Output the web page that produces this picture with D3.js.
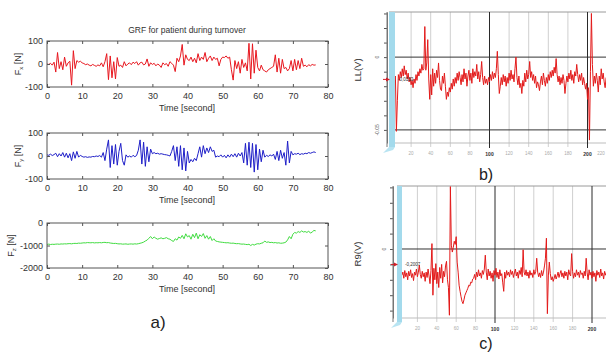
<!DOCTYPE html>
<html><head><meta charset="utf-8">
<script src="https://cdn.jsdelivr.net/npm/d3@7"></script>
<style>body{margin:0;background:#fff}svg{display:block}</style>
</head><body>
<svg id="chart" width="606" height="354"></svg>
<script>
// ---------- data ----------
const grfTitle = "GRF for patient during turnover";
const timeStep = 0.5; // seconds between samples
const timeTicks = [0, 10, 20, 30, 40, 50, 60, 70, 80];
const fxTicks = [-100, 0, 100];
const fyTicks = [-100, 0, 100];
const fzTicks = [-2000, -1000, 0];

const fx = [0,-2,3,-5,8,-35,50,-20,10,-25,30,-10,5,12,-92,58,-20,15,8,12,5,
 2,-3,0,-5,-8,-2,-6,-10,-4,-8,5,-12,10,45,-68,35,-60,10,-65,28,
 -10,-5,-15,10,-8,0,5,-3,8,2,10,-5,5,8,-4,0,22,-10,5,-2,
 3,-8,0,-5,-15,5,-3,2,-10,10,3,-5,-33,25,10,35,85,-5,40,20,
 15,30,10,25,5,45,15,30,20,50,10,25,35,15,30,20,25,-8,20,30,
 28,35,25,30,-25,-70,15,-20,10,-40,20,-15,5,-30,90,-65,88,-40,60,-15,
 -30,-5,-25,-30,-35,-25,-20,-15,-10,40,-35,25,-40,20,-20,-15,-30,-20,15,-30,
 20,-25,15,-20,25,-10,-5,-12,-3,-8,-2,-5,-4];

const fy = [5,3,8,2,6,12,-3,10,0,15,-5,12,-8,10,-20,18,-10,20,-5,3,-2,
 -5,-3,-6,-4,-5,-2,-3,0,-2,2,-5,15,-20,30,70,-50,45,-35,50,-40,
 20,55,-20,-40,5,-5,0,-5,3,-3,2,25,70,-35,60,-45,40,-25,30,10,
 15,10,12,8,10,8,6,5,3,0,20,45,-20,40,-45,45,-60,35,-65,20,
 -30,-15,-25,-10,-20,10,40,-5,45,10,35,15,40,20,25,-5,0,-3,5,-5,
 3,-8,5,-5,8,-3,10,-5,12,0,15,-30,55,-40,60,-50,55,-70,50,-60,
 30,-25,25,-5,3,-2,5,0,8,-15,20,-20,25,-10,15,-40,65,-30,20,5,
 10,8,12,6,10,8,12,10,15,12,15,18,15];

const fz = [-950,-940,-955,-945,-950,-940,-935,-945,-930,-935,-925,-930,-920,-915,-925,-910,-905,-910,-895,-900,-890,
 -880,-885,-870,-875,-880,-870,-885,-875,-880,-870,-880,-865,-860,-875,-870,-890,-900,-910,-905,-920,
 -930,-925,-940,-935,-930,-945,-935,-930,-940,-925,-935,-920,-900,-880,-850,-800,-760,-680,-600,-700,
 -620,-680,-720,-690,-660,-700,-680,-650,-700,-720,-780,-820,-700,-760,-620,-680,-550,-700,-480,-620,
 -560,-720,-500,-650,-450,-700,-520,-600,-470,-680,-560,-720,-600,-780,-700,-800,-820,-840,-850,-860,
 -870,-880,-875,-890,-900,-895,-910,-920,-915,-930,-940,-935,-950,-960,-945,-1000,-950,-980,-940,-920,
 -930,-900,-880,-800,-860,-840,-870,-860,-880,-870,-890,-880,-900,-895,-880,-850,-750,-600,-700,-500,
 -420,-450,-380,-420,-350,-400,-380,-420,-360,-450,-400,-330,-350];

// panel b: LL(V), one sample per unit starting at sample 3
const llStart = 3, llStep = 1;
const llValues = [
 -0.014,-0.013,-0.051,-0.030,-0.012,-0.016,-0.010,-0.014,-0.008,-0.013,
 -0.006,-0.012,-0.009,-0.015,-0.011,-0.017,-0.014,-0.019,-0.016,-0.021,
 -0.015,-0.018,-0.012,-0.016,-0.010,-0.013,-0.008,-0.011,-0.005,-0.009,
 -0.008,0.021,-0.009,-0.004,0.012,-0.015,-0.029,-0.012,-0.026,-0.008,
 -0.020,-0.011,-0.018,-0.009,-0.014,-0.004,-0.016,-0.022,-0.023,-0.013,
 -0.018,-0.011,-0.020,-0.029,-0.024,-0.027,-0.021,-0.024,-0.018,-0.022,
 -0.015,-0.020,-0.014,-0.018,-0.011,-0.016,-0.010,-0.014,-0.019,-0.012,
 -0.017,-0.008,-0.015,-0.011,-0.020,-0.013,-0.009,-0.016,-0.011,-0.018,
 -0.008,-0.014,-0.010,-0.013,-0.005,-0.015,-0.010,-0.017,-0.012,-0.003,
 -0.014,-0.019,-0.013,-0.018,-0.015,-0.019,-0.014,-0.017,-0.012,-0.016,
 -0.010,-0.015,-0.011,-0.014,-0.008,0.004,-0.012,-0.025,-0.020,-0.014,
 -0.019,-0.012,-0.017,-0.013,-0.020,-0.014,-0.018,-0.011,-0.016,-0.009,
 -0.015,-0.012,-0.017,-0.008,0.000,-0.014,-0.019,-0.013,-0.021,-0.018,
 -0.025,-0.016,-0.020,-0.011,-0.017,-0.009,-0.015,-0.012,-0.003,-0.014,
 -0.010,-0.016,-0.012,-0.018,-0.013,-0.021,-0.017,-0.019,-0.023,-0.017,
 -0.013,-0.019,-0.011,-0.016,-0.020,-0.014,-0.018,-0.012,-0.016,-0.010,
 -0.014,-0.009,-0.013,-0.007,-0.011,-0.001,-0.012,-0.017,-0.013,-0.019,
 -0.014,-0.018,-0.012,-0.016,-0.025,-0.018,-0.013,-0.017,-0.011,-0.015,
 -0.009,-0.016,-0.012,-0.018,-0.010,-0.013,-0.005,-0.012,-0.017,-0.012,
 -0.016,-0.011,-0.019,-0.014,-0.018,-0.022,-0.018,-0.029,-0.021,-0.057,
 -0.010,0.030,-0.005,-0.020,-0.013,-0.018,-0.011,-0.016,-0.024,-0.013,
 -0.019,-0.008,-0.015,-0.011,-0.017,-0.021,-0.014];

// panel c: R9(V), one sample per unit starting at sample 4
const r9Start = 4, r9Step = 1;
const r9Values = [
 -0.34,-0.30,-0.38,-0.28,-0.36,-0.31,-0.40,-0.29,-0.35,-0.27,
 -0.37,-0.32,-0.41,-0.30,-0.34,-0.26,-0.36,-0.30,-0.21,-0.33,
 -0.38,-0.29,-0.36,-0.31,-0.42,-0.30,-0.37,-0.26,-0.35,-0.45,
 -0.28,0.07,-0.60,-0.25,-0.40,-0.19,-0.45,-0.30,-0.50,-0.24,
 -0.38,-0.20,-0.44,-0.29,-0.36,-0.22,-0.16,-0.40,-0.50,-0.86,
 0.81,0.05,-0.04,0.02,0.10,0.06,0.16,-0.17,-0.30,-0.47,
 -0.55,-0.62,-0.68,-0.71,-0.66,-0.60,-0.57,-0.54,-0.51,-0.47,
 -0.48,-0.43,-0.44,-0.39,-0.38,-0.33,-0.40,-0.30,-0.36,-0.27,
 -0.35,-0.31,-0.38,-0.28,-0.33,-0.26,-0.08,-0.30,-0.40,-0.26,
 -0.35,-0.29,-0.38,-0.31,-0.42,-0.28,-0.34,-0.25,-0.37,-0.30,
 -0.39,-0.27,-0.35,-0.32,-0.44,-0.55,-0.30,-0.38,-0.28,-0.34,
 -0.30,-0.36,-0.27,-0.33,-0.29,-0.37,-0.31,-0.26,-0.35,-0.30,
 -0.38,-0.28,-0.33,-0.24,-0.36,-0.01,-0.30,-0.34,-0.27,-0.35,
 -0.30,-0.38,-0.28,-0.34,-0.31,-0.37,-0.27,-0.33,-0.29,-0.12,
 -0.30,-0.36,-0.31,-0.37,-0.28,-0.35,-0.30,-0.22,-0.12,0.14,
 -0.84,-0.35,-0.17,-0.32,-0.40,-0.36,-0.42,-0.38,-0.33,-0.39,
 -0.35,-0.30,-0.37,-0.32,-0.28,-0.36,-0.31,-0.38,-0.29,-0.35,
 -0.30,-0.40,-0.27,-0.33,-0.35,-0.06,-0.29,-0.38,-0.31,-0.36,
 -0.27,-0.34,-0.30,-0.37,-0.28,-0.33,-0.31,-0.38,-0.29,-0.35,
 -0.12,-0.31,-0.40,-0.27,-0.34,-0.30,-0.38,-0.29,-0.36,-0.31,
 -0.42,-0.28,-0.34,-0.30,-0.37,-0.26,-0.35,-0.31,-0.39,-0.29,
 -0.34,-0.30,-0.36,-0.32];

const sampleTicks = [20, 40, 60, 80, 100, 120, 140, 160, 180, 200, 220];
const majorSampleTicks = [100, 200];
const llTickLabels = [20, 40, 60, 80, 100, 120, 140, 160, 180, 200, 220];
const r9TickLabels = [20, 40, 60, 80, 100, 120, 140, 160, 180, 200];
const llTicks = [0.03, 0.02, 0.01, 0, -0.01, -0.02, -0.03, -0.04, -0.05];
const llLevels = [0, -0.05];
const llLabels = ["0", "-0.05"];
const r9Ticks = [0.8, 0.6, 0.4, 0.2, 0, -0.2, -0.4, -0.6, -0.8];
const r9Levels = [0];
const r9Labels = ["0"];
const llMarker = -0.0153, llMarkerText = "-0,0153";
const r9Marker = -0.2007, r9MarkerText = "-0,2007";

// ---------- drawing ----------
const FONT = "'Liberation Sans', Arial, Helvetica, sans-serif";
const svg = d3.select("#chart");
svg.append("rect").attr("width", 606).attr("height", 354).attr("fill", "#fff");

// ----- panel a -----
const xA = d3.scaleLinear().domain([0, 80]).range([47, 328]);
svg.append("text").attr("x", 187).attr("y", 33).attr("text-anchor", "middle")
  .attr("font-family", FONT).attr("font-size", 8.5).attr("fill", "#333").text(grfTitle);

const grfPanels = [
  {values: fx, ticks: fxTicks, domain: [-100, 100], top: 41, bottom: 87, color: "#e8161e", sub: "x", labelX: 21},
  {values: fy, ticks: fyTicks, domain: [-100, 100], top: 133, bottom: 179, color: "#1e1ec8", sub: "y", labelX: 21},
  {values: fz, ticks: fzTicks, domain: [-2000, 0], top: 223, bottom: 268, color: "#40dc40", sub: "z", labelX: 14}
];

function styleAxis(sel) {
  sel.select(".domain").remove();
  sel.selectAll("line").attr("stroke", "#555");
  sel.selectAll("text").attr("font-family", FONT).attr("font-size", 9).attr("fill", "#333");
}

grfPanels.forEach(p => {
  const y = d3.scaleLinear().domain(p.domain).range([p.bottom, p.top]);
  const g = svg.append("g");
  const line = d3.line().x((d, i) => xA(i * timeStep)).y(d => y(d));
  g.append("path").datum(p.values).attr("d", line).attr("fill", "none")
    .attr("stroke", p.color).attr("stroke-width", 1).attr("stroke-linejoin", "round");
  const fmt = d => String(d);
  g.append("g").attr("transform", `translate(0,${p.bottom})`)
    .call(d3.axisBottom(xA).tickValues(timeTicks).tickSizeInner(-3).tickSizeOuter(0).tickPadding(6).tickFormat(fmt))
    .call(styleAxis);
  g.append("g").attr("transform", `translate(0,${p.top})`)
    .call(d3.axisTop(xA).tickValues(timeTicks).tickSizeInner(-3).tickSizeOuter(0).tickFormat(""))
    .call(styleAxis);
  g.append("g").attr("transform", `translate(47,0)`)
    .call(d3.axisLeft(y).tickValues(p.ticks).tickSizeInner(-3).tickSizeOuter(0).tickPadding(4).tickFormat(fmt))
    .call(styleAxis);
  g.append("g").attr("transform", `translate(328,0)`)
    .call(d3.axisRight(y).tickValues(p.ticks).tickSizeInner(-3).tickSizeOuter(0).tickFormat(""))
    .call(styleAxis);
  g.append("rect").attr("x", 47).attr("y", p.top).attr("width", 281).attr("height", p.bottom - p.top)
    .attr("fill", "none").attr("stroke", "#555").attr("stroke-width", 1);
  g.append("text").attr("x", 187).attr("y", p.bottom + 24).attr("text-anchor", "middle")
    .attr("font-family", FONT).attr("font-size", 9).attr("fill", "#333").text("Time [second]");
  const t = g.append("text").attr("transform", `translate(${p.labelX},${(p.top + p.bottom) / 2}) rotate(-90)`)
    .attr("text-anchor", "middle").attr("font-family", FONT).attr("font-size", 9).attr("fill", "#333");
  t.append("tspan").text("F");
  t.append("tspan").attr("font-size", 6).attr("dy", 2).text(p.sub);
  t.append("tspan").attr("dy", -2).text(" [N]");
});

svg.append("text").attr("x", 158).attr("y", 328).attr("text-anchor", "middle")
  .attr("font-family", FONT).attr("font-size", 17).attr("fill", "#222").text("a)");

// ----- panels b and c -----
function drawTrace(c) {
  const right = 606;
  const x = d3.scaleLinear().domain([0, 220]).range([c.x0, c.x0 + 220 * c.k]);
  const y = d3.scaleLinear().domain(c.yDomain).range([c.bottom, c.top]);
  const g = svg.append("g");
  const clipId = "clip-" + c.name;
  svg.append("clipPath").attr("id", clipId).append("rect")
    .attr("x", c.plotLeft).attr("y", c.top).attr("width", right - c.plotLeft).attr("height", c.bottom - c.top);

  const minor = sampleTicks.filter(t => !majorSampleTicks.includes(t));
  g.selectAll(".minor").data(minor).join("line")
    .attr("x1", d => x(d)).attr("x2", d => x(d)).attr("y1", c.top).attr("y2", c.bottom + 4)
    .attr("stroke", "#cfcfcf").attr("stroke-width", 1);
  g.append("line").attr("x1", c.plotLeft).attr("x2", right).attr("y1", c.bottom).attr("y2", c.bottom)
    .attr("stroke", "#bdbdbd");
  g.append("line").attr("x1", c.barX).attr("x2", right).attr("y1", c.top).attr("y2", c.top)
    .attr("stroke", "#9a9a9a");
  g.selectAll(".major").data(majorSampleTicks).join("line")
    .attr("x1", d => x(d)).attr("x2", d => x(d)).attr("y1", c.top).attr("y2", c.bottom + 5)
    .attr("stroke", "#2a2a2a").attr("stroke-width", 1);
  g.selectAll(".level").data(c.levels).join("line")
    .attr("x1", c.plotLeft).attr("x2", right).attr("y1", d => y(d)).attr("y2", d => y(d))
    .attr("stroke", "#333").attr("stroke-width", 1);

  const line = d3.line().x((d, i) => x(c.start + i * c.step)).y(d => y(d));
  g.append("path").datum(c.values).attr("clip-path", `url(#${clipId})`).attr("d", line)
    .attr("fill", "none").attr("stroke", "#e31a1a").attr("stroke-width", 1).attr("stroke-linejoin", "round");

  // cyan scroll bar
  g.append("rect").attr("x", c.barX).attr("y", c.top).attr("width", c.barW).attr("height", c.bottom - c.top + 4)
    .attr("fill", "#a3daec");
  g.append("polygon").attr("points", [
      [c.barX, c.bottom + 4], [c.barX + c.barW, c.bottom + 4], [c.barX + c.barW - 2, c.bottom + 7], [c.barX - 6, c.bottom + 10]
    ].map(p => p.join(",")).join(" ")).attr("fill", "#b8e4f2");

  // left axis
  const ax = g.append("g").attr("transform", `translate(${c.axisX},0)`)
    .call(d3.axisLeft(y).tickValues(c.ticks).tickSizeInner(3).tickSizeOuter(0).tickFormat(""));
  ax.select(".domain").attr("stroke", "#777");
  ax.selectAll("line").attr("stroke", "#555");
  g.append("line").attr("x1", c.axisX).attr("x2", c.axisX).attr("y1", c.top).attr("y2", c.bottom + 4).attr("stroke", "#777");

  g.selectAll(".ylab").data(c.levels).join("text")
    .attr("transform", (d, i) => `translate(${c.labelX},${y(d)}) rotate(-90)`)
    .attr("text-anchor", "middle").attr("font-family", FONT).attr("font-size", 5).attr("fill", "#555")
    .text((d, i) => c.levelLabels[i]);

  // x tick labels
  g.selectAll(".xlab").data(c.tickLabels).join("text")
    .attr("x", d => Math.min(x(d), right - 5))
    .attr("y", d => majorSampleTicks.includes(d) ? c.xLabelY + 1 : c.xLabelY)
    .attr("text-anchor", "middle").attr("font-family", FONT)
    .attr("font-size", d => majorSampleTicks.includes(d) ? 5 : 4.5)
    .attr("font-weight", d => majorSampleTicks.includes(d) ? "bold" : "normal")
    .attr("fill", d => majorSampleTicks.includes(d) ? "#333" : "#aaa")
    .text(d => d);

  // marker
  const my = y(c.marker);
  g.append("polygon").attr("points", [[c.barX - 3, my - 2], [c.barX + 1, my], [c.barX - 3, my + 2]].map(p => p.join(",")).join(" "))
    .attr("fill", "#d0202a");
  g.append("line").attr("x1", c.barX - 6).attr("x2", c.barX - 2).attr("y1", my).attr("y2", my).attr("stroke", "#d0202a");
  g.append("text").attr("x", c.plotLeft + 3).attr("y", my + 1.5).attr("font-family", FONT).attr("font-size", 4.5)
    .attr("fill", "#333").text(c.markerText);

  // title
  g.append("text").attr("transform", `translate(361,${c.titleY}) rotate(-90)`).attr("text-anchor", "middle")
    .attr("font-family", FONT).attr("font-size", 9.5).attr("fill", "#333").text(c.title);
  g.append("text").attr("x", 486).attr("y", c.letterY).attr("text-anchor", "middle")
    .attr("font-family", FONT).attr("font-size", 16).attr("fill", "#222").text(c.letter);
}

drawTrace({name: "b", values: llValues, start: llStart, step: llStep, tickLabels: llTickLabels,
  x0: 391.5, k: 0.98, top: 12, bottom: 143, plotLeft: 395, barX: 389, barW: 6, axisX: 387,
  yDomain: [-0.059, 0.031], ticks: llTicks, levels: llLevels, levelLabels: llLabels, labelX: 379,
  xLabelY: 155, marker: llMarker, markerText: llMarkerText, title: "LL(V)", titleY: 70,
  letter: "b)", letterY: 180});

drawTrace({name: "c", values: r9Values, start: r9Start, step: r9Step, tickLabels: r9TickLabels,
  x0: 398, k: 0.97, top: 186, bottom: 318, plotLeft: 402, barX: 397, barW: 5, axisX: 393,
  yDomain: [-0.896, 0.818], ticks: r9Ticks, levels: r9Levels, levelLabels: r9Labels, labelX: 386,
  xLabelY: 330, marker: r9Marker, markerText: r9MarkerText, title: "R9(V)", titleY: 254,
  letter: "c)", letterY: 349});
</script>
</body></html>
